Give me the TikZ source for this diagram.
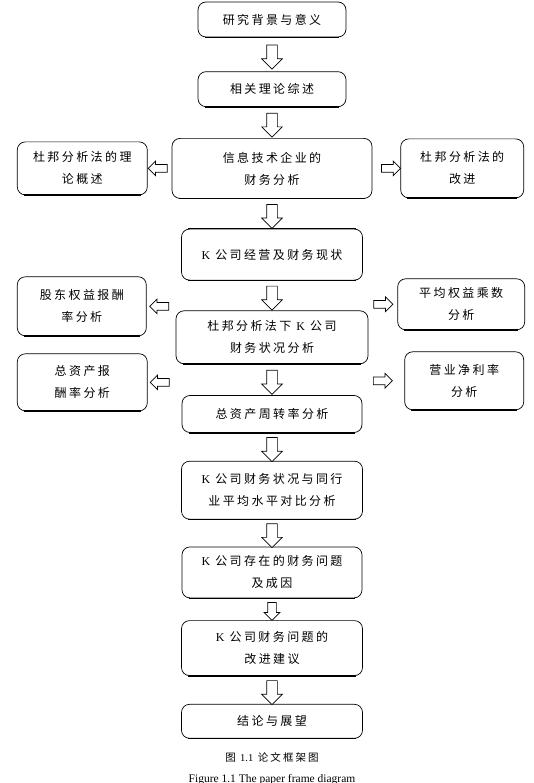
\documentclass[tikz,border=0pt]{standalone}
\usepackage{fontspec}
\setmainfont{Liberation Serif}
\newfontfamily\cjk[LetterSpace=20]{Noto Sans CJK SC}
\usetikzlibrary{positioning,shapes.arrows,calc}

\begin{document}
\begin{tikzpicture}[x=1pt,y=1pt,
			box/.style={draw=black, rounded corners=8pt, line width=0.7pt, align=center, inner sep=0pt, font=\cjk\fontsize{12}{22}\selectfont},
			darrow/.style={single arrow, draw=black, fill=white, line width=0.7pt, shape border rotate=270, minimum height=24pt, single arrow head extend=5pt, inner sep=5pt},
			harrow/.style={single arrow, draw=black, fill=white, line width=0.7pt, minimum height=19pt, single arrow head extend=3.5pt, inner sep=3.5pt},
		]
		\useasboundingbox (0,0) rectangle (534,-783);
		
			%Nodes
			\node[box, minimum width=148pt, minimum height=35pt]	(b1) at (272,-19.5)		{研究背景与意义};
			\node[box, minimum width=148pt, minimum height=35pt]	(b2) [below=34pt of b1]	{相关理论综述};
			\node[box, minimum width=200pt, minimum height=60pt]	(b3) [below=31pt of b2]	{信息技术企业的\\财务分析};
			\node[box, minimum width=181pt, minimum height=51pt]	(b4) [below=30pt of b3]	{{\rmfamily K} 公司经营及财务现状};
			\node[box, minimum width=192pt, minimum height=53pt]	(b5) [below=30pt of b4]	{杜邦分析法下 {\rmfamily K} 公司\\财务状况分析};
			\node[box, minimum width=180pt, minimum height=37pt]	(b6) [below=31pt of b5]	{总资产周转率分析};
			\node[box, minimum width=181pt, minimum height=58pt]	(b7) [below=28pt of b6]	{{\rmfamily K} 公司财务状况与同行\\业平均水平对比分析};
			\node[box, minimum width=180pt, minimum height=51pt]	(b8) [below=27pt of b7]	{{\rmfamily K} 公司存在的财务问题\\及成因};
			\node[box, minimum width=181pt, minimum height=55pt]	(b9) [below=22pt of b8]	{{\rmfamily K} 公司财务问题的\\改进建议};
			\node[box, minimum width=181pt, minimum height=34pt]	(b10) [below=28pt of b9]	{结论与展望};
		
			\node[box, minimum width=130pt, minimum height=53pt]	(l1) [left=24pt of b3]	{杜邦分析法的理\\论概述};
			\node[box, minimum width=123pt, minimum height=59pt]	(r1) [right=28pt of b3]	{杜邦分析法的\\改进};
			\node[box, minimum width=129pt, minimum height=59pt]	(l2) [left=29pt of b5, yshift=31pt]	{股东权益报酬\\率分析};
			\node[box, minimum width=127pt, minimum height=51pt]	(r2) [right=29pt of b5, yshift=33pt]	{平均权益乘数\\分析};
			\node[box, minimum width=130pt, minimum height=57pt]	(l3) [left=28pt of b5, yshift=-45pt]	{总资产报\\酬率分析};
			\node[box, minimum width=119pt, minimum height=58pt]	(r3) [right=36pt of b5, yshift=-43.5pt]	{营业净利率\\分析};
		
			\node[font=\cjk\fontsize{10.5}{12}\selectfont]	(cap1) [below=10pt of b10]	{图 {\rmfamily 1.1} 论文框架图};
			\node[font=\fontsize{11.5}{13}\selectfont]	(cap2) [below=5pt of cap1]	{Figure 1.1 The paper frame diagram};
		
			%Arrows
			\foreach \a/\b in {b1/b2, b2/b3, b3/b4, b4/b5, b5/b6, b6/b7, b7/b8, b9/b10}
				\node[darrow] (\a-\b) at ($(\a.south)!.5!(\b.north)$) {};
			\node[darrow, minimum height=18pt, inner sep=4pt, single arrow head extend=3.5pt] (b8-b9) at ($(b8.south)!.5!(b9.north)$) {};
		
			\node[harrow, shape border rotate=180] (b3-l1) at ($(l1.east)!.5!(b3.west |- l1.east)$) {};
			\node[harrow] (b3-r1) at ($(r1.west)!.4!(b3.east |- r1.west)$) {};
			\node[harrow, shape border rotate=180] (b5-l2) at ($(l2.east)!.5!(b5.west |- l2.east)$) {};
			\node[harrow] (b5-r2) at ($(r2.west)!.55!(b5.east |- r2.west)$) {};
			\node[harrow, shape border rotate=180] (b5-l3) at ($(l3.east)!.5!(b5.west |- l3.east)$) {};
			\node[harrow] (b5-r3) at ($(r3.west)!.65!(b5.east |- r3.west)$) {};
		
			%Heavy lower edges
			\foreach \n in {b1,b2,b3,b4,b5,b6,b7,b8,b9,b10,l1,r1,l2,r2,l3,r3}
				\draw[line width=1.5pt] ([xshift=7pt]\n.south west) -- ([xshift=-7pt]\n.south east);
			\draw[line width=1.5pt] ([xshift=7pt]b4.north west) -- ([xshift=-7pt]b4.north east);
		
		\end{tikzpicture}
\end{document}
